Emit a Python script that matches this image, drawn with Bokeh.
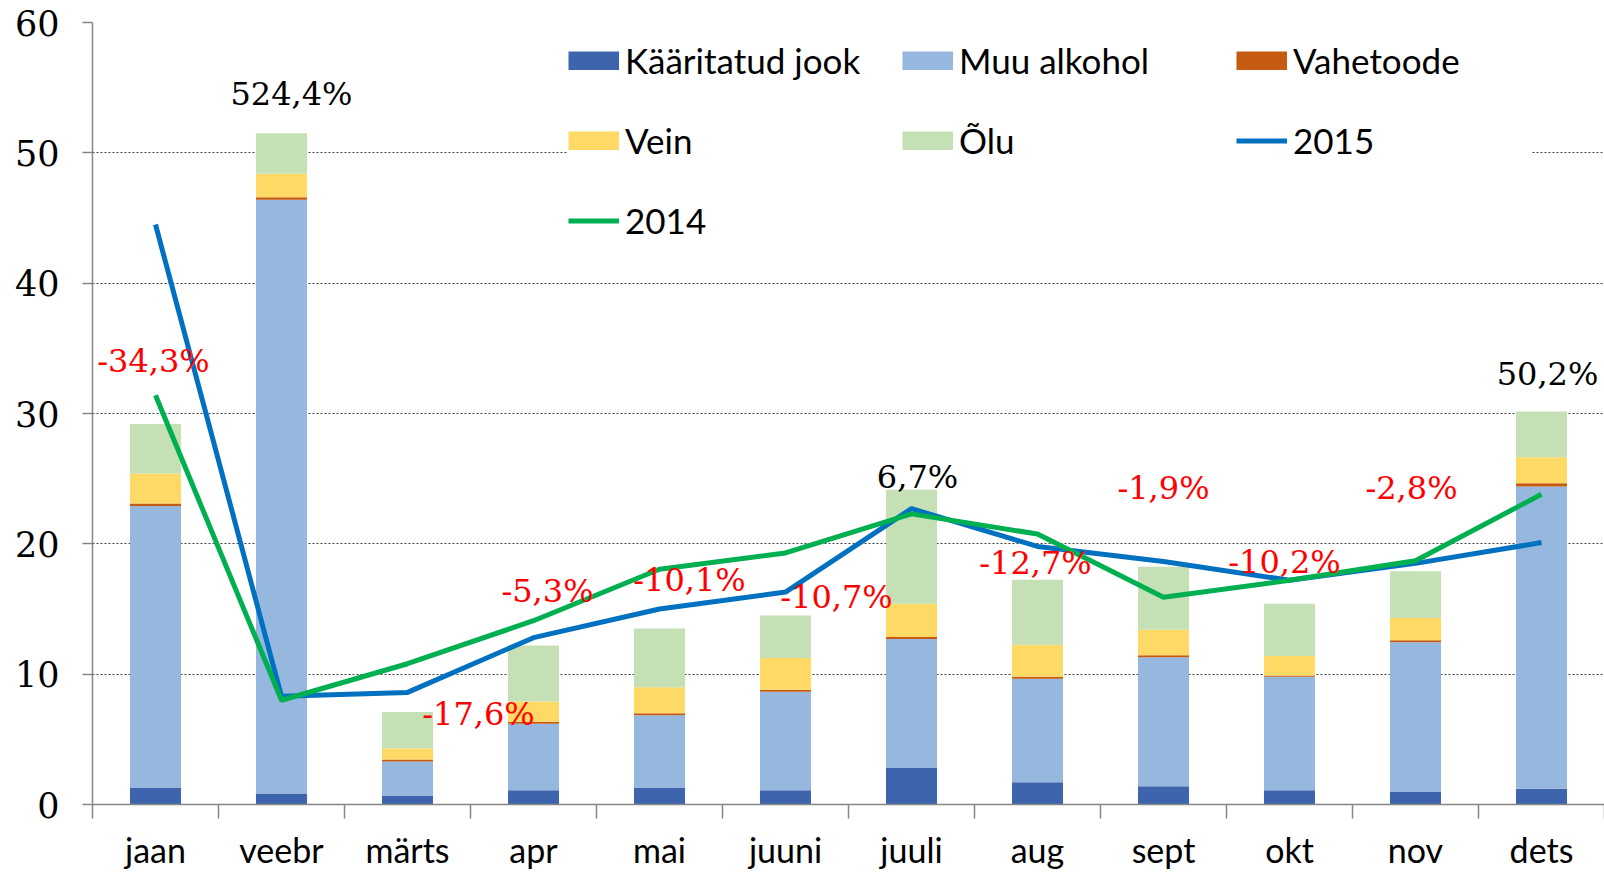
from bokeh.plotting import figure
from bokeh.models import (Range1d, FixedTicker, Legend, LegendItem, ColumnDataSource)
from bokeh.core.properties import value
from bokeh.embed import file_html
from bokeh.resources import INLINE

# ---- data -------------------------------------------------------------
months = ["jaan", "veebr", "märts", "apr", "mai", "juuni",
          "juuli", "aug", "sept", "okt", "nov", "dets"]

kaaritatud = [1.3, 0.85, 0.7, 1.1, 1.3, 1.1, 2.8, 1.7, 1.4, 1.1, 1.0, 1.2]
muu_alkohol = [21.6, 45.55, 2.6, 5.1, 5.55, 7.55, 9.9, 7.95, 9.9, 8.7, 11.45, 23.2]
vahetoode = [0.2, 0.2, 0.15, 0.15, 0.15, 0.15, 0.15, 0.15, 0.15, 0.1, 0.15, 0.25]
vein = [2.3, 1.8, 0.85, 1.55, 2.0, 2.45, 2.55, 2.45, 1.95, 1.5, 1.7, 2.0]
olu = [3.8, 3.1, 2.8, 4.3, 4.5, 3.25, 8.75, 5.0, 4.85, 4.0, 3.6, 3.5]

y2015 = [44.5, 8.3, 8.6, 12.8, 15.0, 16.3, 22.7, 19.8, 18.65, 17.2, 18.5, 20.1]
y2014 = [31.4, 8.0, 10.8, 14.1, 18.05, 19.3, 22.3, 20.75, 15.9, 17.2, 18.7, 23.8]

change_labels = ["-34,3%", "524,4%", "-17,6%", "-5,3%", "-10,1%", "-10,7%",
                 "6,7%", "-12,7%", "-1,9%", "-10,2%", "-2,8%", "50,2%"]
# label placement (value-axis position and horizontal nudge in px)
label_y = [34.0, 54.5, 6.96, 16.4, 17.2, 15.9, 25.1, 18.55, 24.3, 18.6, 24.3, 33.05]
label_dx = [-2, 10, 71, 14, 30, 51, 6, -2, 0, -5, -4, 6]

y_ticks = [0, 10, 20, 30, 40, 50, 60]

series_names = ["Kääritatud jook", "Muu alkohol", "Vahetoode", "Vein", "Õlu"]
series_keys = ["kaaritatud", "muu", "vahetoode", "vein", "olu"]
series_colors = ["#3e64ad", "#97b8de", "#c55a11", "#ffd966", "#c5e0b4"]
color_2015 = "#0070c0"
color_2014 = "#00b050"

# ---- sources ----------------------------------------------------------
n = len(months)
xc = [i + 0.5 for i in range(n)]          # month slot centres on the x scale
src = ColumnDataSource(dict(x=xc, month=months, kaaritatud=kaaritatud, muu=muu_alkohol,
                            vahetoode=vahetoode, vein=vein, olu=olu,
                            y2015=y2015, y2014=y2014))
lab_src = ColumnDataSource(dict(
    x=xc, ly=label_y, lbl=change_labels, dx=label_dx,
    col=["#ff0000" if s.startswith("-") else "#000000" for s in change_labels]))

# ---- figure -----------------------------------------------------------
p = figure(width=1604, height=873, x_range=Range1d(0, n), y_range=Range1d(0, 60),
           output_backend="svg", toolbar_location=None,
           min_border_left=92, min_border_right=0, min_border_top=22, min_border_bottom=69)
p.outline_line_color = None
p.background_fill_color = "white"
p.border_fill_color = "white"
p.xgrid.visible = False

ax_col = "#868686"

# y axis
p.yaxis.ticker = FixedTicker(ticks=y_ticks)
p.yaxis.major_label_text_font = "DejaVu Serif"
p.yaxis.major_label_text_font_size = "35px"
p.yaxis.major_label_text_color = "black"
p.yaxis.major_label_standoff = 23
p.yaxis.major_tick_out = 10
p.yaxis.major_tick_in = 0
p.yaxis.minor_tick_line_color = None
p.yaxis.axis_line_color = ax_col
p.yaxis.axis_line_width = 1.5
p.yaxis.major_tick_line_color = ax_col
p.yaxis.major_tick_line_width = 1.5

p.ygrid.ticker = FixedTicker(ticks=y_ticks)
p.ygrid.grid_line_color = "#404040"
p.ygrid.grid_line_dash = "2 2"
p.ygrid.grid_line_width = 1

# x axis: labels at month centres, ticks at month boundaries
xa = p.xaxis[0]
xa.ticker = FixedTicker(ticks=xc, minor_ticks=list(range(n + 1)))
xa.major_label_overrides = {x: m for x, m in zip(xc, months)}
xa.major_label_text_font = "Lato"
xa.major_label_text_font_size = "34px"
xa.major_label_text_color = "black"
xa.major_label_standoff = 10
xa.major_tick_out = 0
xa.major_tick_in = 0
xa.major_tick_line_color = None
xa.minor_tick_out = 14
xa.minor_tick_in = 0
xa.minor_tick_line_color = ax_col
xa.minor_tick_line_width = 1.5
xa.axis_line_color = ax_col
xa.axis_line_width = 1.5

# bars
bars = p.vbar_stack(series_keys, x="x", width=0.405, color=series_colors,
                    line_color=None, source=src)

# lines
l15 = p.line(x="x", y="y2015", source=src, line_color=color_2015, line_width=5)
l14 = p.line(x="x", y="y2014", source=src, line_color=color_2014, line_width=5)

# change labels
p.text(x="x", y="ly", text="lbl", x_offset="dx", source=lab_src,
       text_color="col", text_font=value("DejaVu Serif"), text_font_size="32px",
       text_align="center", text_baseline="middle")

# legend keys for the bar series: flat colour swatches (hidden renderers, legend only)
swatches = [p.line(x="x", y=k, source=src, line_color=c, line_width=19,
                   line_cap="butt", visible=False)
            for k, c in zip(series_keys, series_colors)]

items = [LegendItem(label=nm, renderers=[r]) for nm, r in zip(series_names, swatches)]
items += [LegendItem(label="2015", renderers=[l15]), LegendItem(label="2014", renderers=[l14])]
legend = Legend(items=items, orientation="horizontal", ncols=3, location=(476, 563),
                glyph_width=51, glyph_height=19, label_standoff=6, spacing=38,
                padding=16, margin=0, label_width=239, label_height=19,
                label_text_font="Lato", label_text_font_size="35px",
                label_text_color="black", border_line_color=None,
                background_fill_color="white", background_fill_alpha=1.0,
                inactive_fill_alpha=0.0)
p.add_layout(legend)

open("out.html", "w").write(file_html(p, INLINE))
